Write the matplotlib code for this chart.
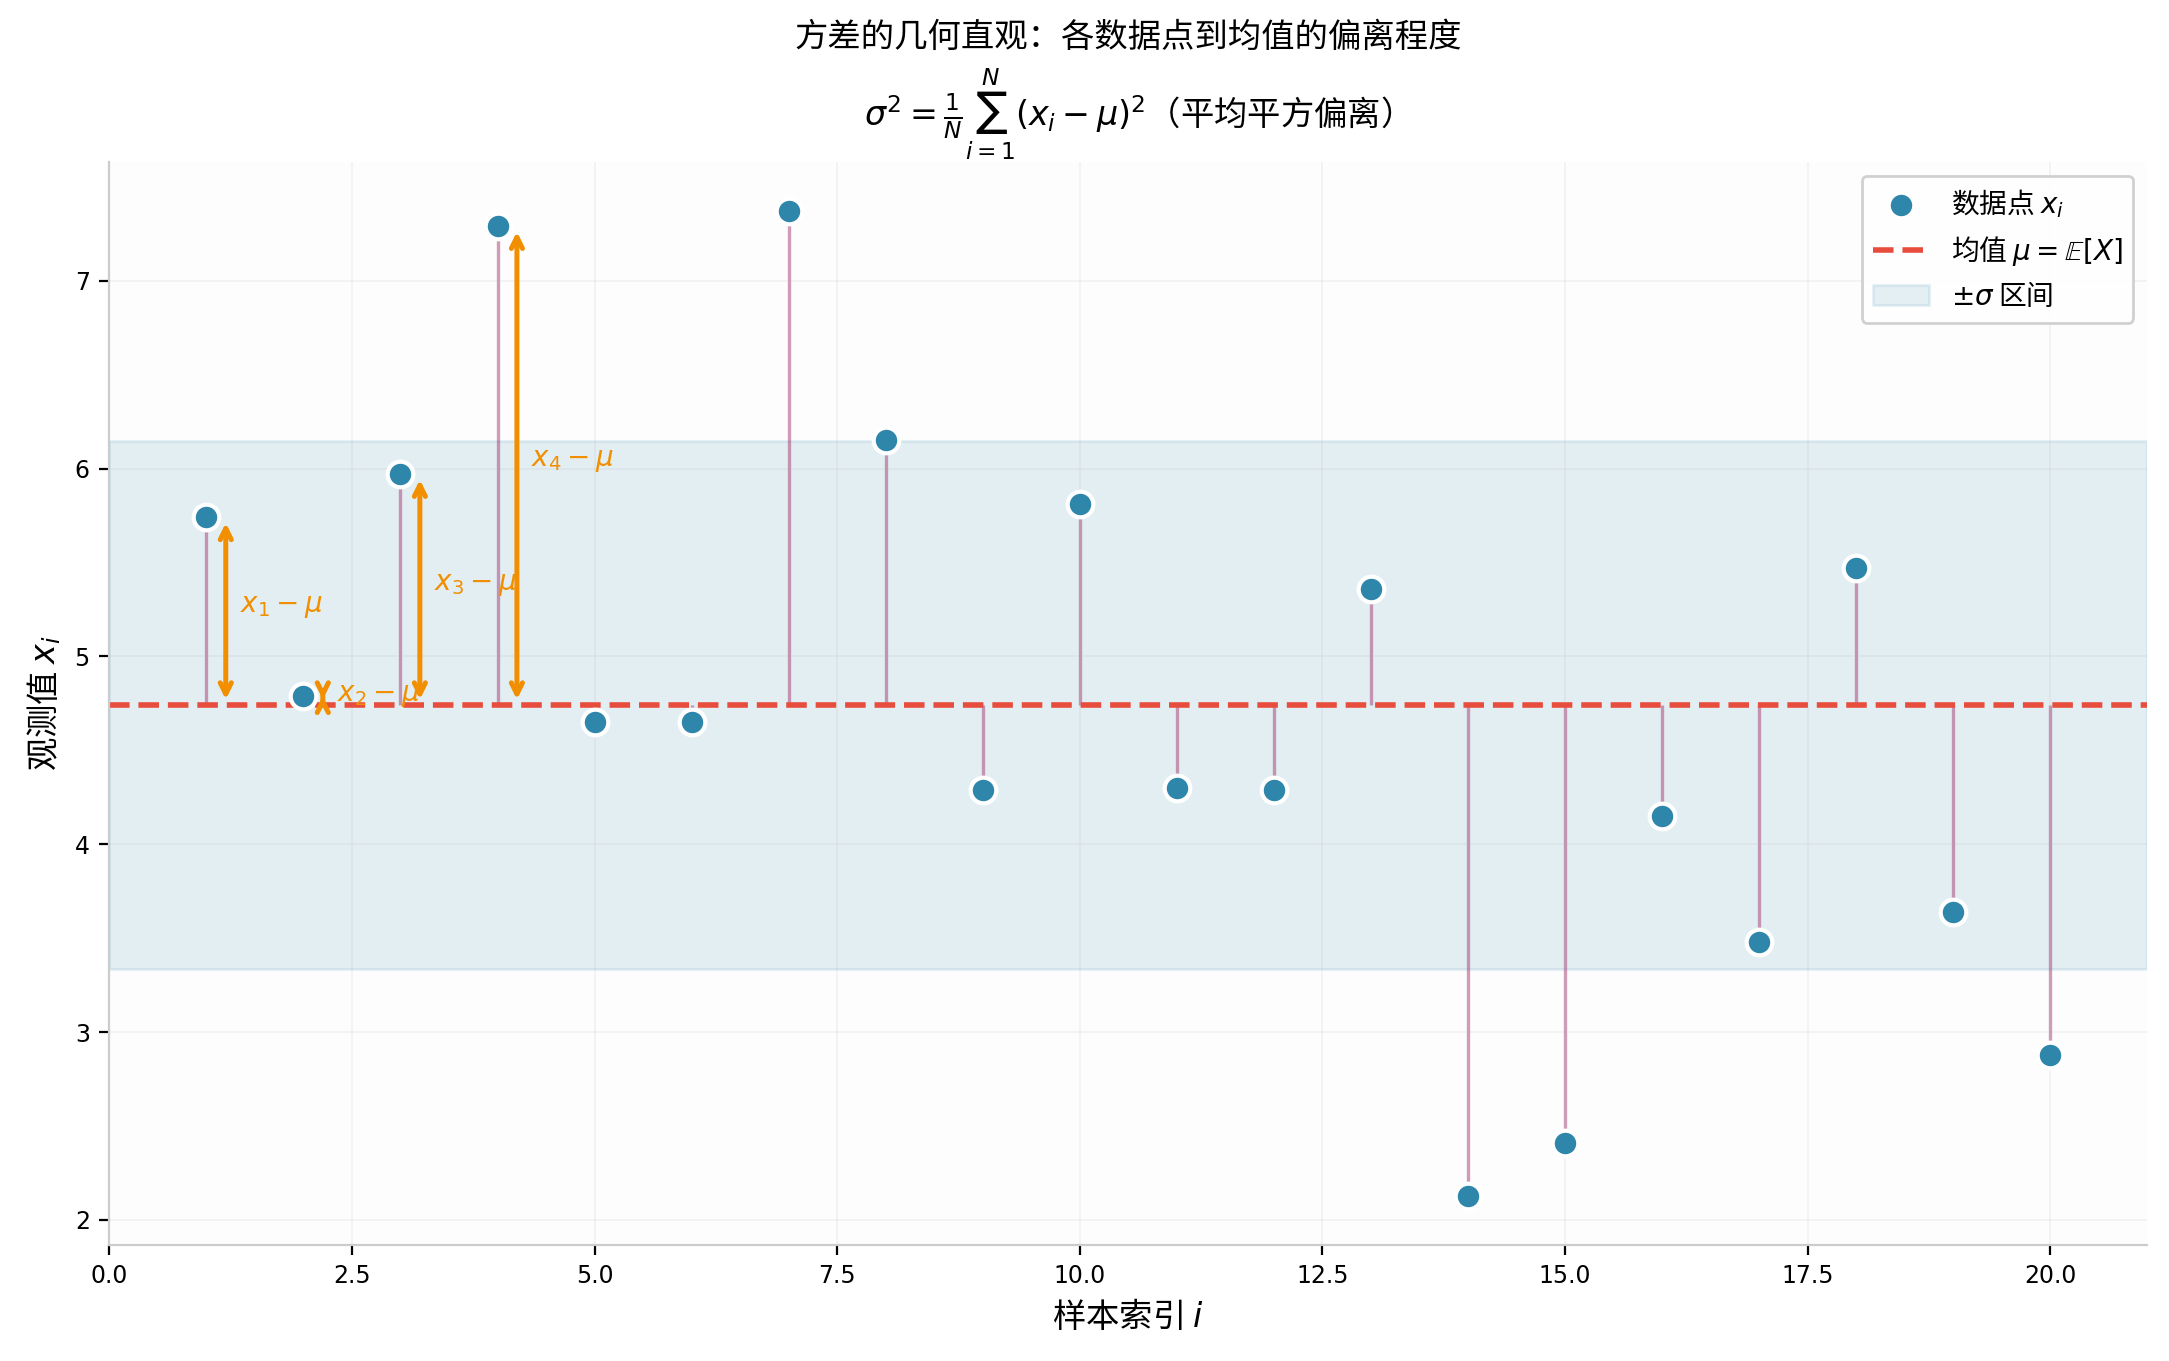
import numpy as np
import matplotlib
matplotlib.use("Agg")
import matplotlib.pyplot as plt

plt.rcParams["font.family"] = ["DejaVu Sans", "Noto Sans CJK SC"]
plt.rcParams["axes.unicode_minus"] = False
CJK = "Noto Sans CJK SC"

idx = np.arange(1, 21)
values = [5.74, 4.79, 5.97, 7.29, 4.65, 4.65, 7.37, 6.15, 4.29, 5.81,
          4.30, 4.29, 5.36, 2.13, 2.41, 4.15, 3.48, 5.47, 3.64, 2.88]
n_annot = 4

vals = np.array(values)
mu = vals.mean()
sigma = vals.std()

fig, ax = plt.subplots(figsize=(10.845, 6.805), dpi=200)
fig.subplots_adjust(left=0.0504, right=0.990, bottom=0.0854, top=0.881)
ax.set_facecolor("#FDFDFD")

# +- sigma band
band = ax.axhspan(mu - sigma, mu + sigma, color="#2E86AB", alpha=0.12,
                  label=r"$\pm\sigma$ 区间", zorder=0)

# stems from the mean to each point
ax.vlines(idx, mu, vals, color="#A23B72", alpha=0.5, lw=1.2, zorder=1)

mline = ax.axhline(mu, color="#E74C3C", ls="--", lw=2,
                   label=r"均值 $\mu = \mathbb{E}[X]$", zorder=2)

pts = ax.scatter(idx, vals, s=85, color="#2E86AB", edgecolor="white",
                 linewidth=1.5, label=r"数据点 $x_i$", zorder=3)

# deviation arrows for the first few points
for i in range(n_annot):
    x, v = idx[i], vals[i]
    ax.annotate("", xy=(x + 0.2, v), xytext=(x + 0.2, mu),
                arrowprops=dict(arrowstyle="<->", color="#F18F01", lw=1.8),
                zorder=4)
    ax.text(x + 0.35, (v + mu) / 2 + 0.03, rf"$x_{{{x}}} - \mu$", color="#F18F01",
            fontsize=10, va="center", ha="left")

ax.set_xlim(0, 21)
ax.set_xlabel(r"样本索引 $i$", fontsize=12, family=CJK)
ax.set_ylabel(r"观测值 $x_i$", fontsize=12, family=CJK)
ax.set_title("方差的几何直观：各数据点到均值的偏离程度\n"
             r"$\sigma^2 = \frac{1}{N}\sum_{i=1}^{N}(x_i - \mu)^2$（平均平方偏离）",
             fontsize=12, pad=6, family=CJK)
ax.tick_params(labelsize=8.5)

ax.grid(True, alpha=0.15, lw=0.6)
for s in ["top", "right"]:
    ax.spines[s].set_visible(False)
for s in ["left", "bottom"]:
    ax.spines[s].set_color("#CCCCCC")

ax.legend(handles=[pts, mline, band], loc="upper right",
          prop=dict(family=CJK, size=10), framealpha=0.9, edgecolor="#CCCCCC")

fig.savefig("out.png", dpi=200)
